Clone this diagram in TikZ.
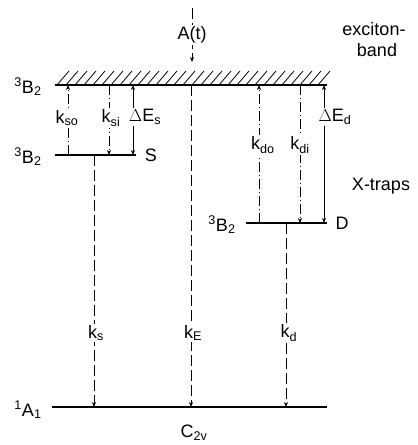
\documentclass[tikz,border=0pt]{standalone}
\usepackage{fontspec}
\setmainfont{Liberation Sans}
\usetikzlibrary{arrows.meta}
\begin{document}
\begin{tikzpicture}[x=1pt,y=-1pt,
  every node/.style={font=\fontsize{18}{20}\selectfont, inner sep=1pt},
  lbl/.style={fill=white, inner sep=1.5pt},
  level/.style={line width=1.6pt},
  tip/.style={-{Stealth[length=5pt,width=4pt]}},
  dtip/.style={{Stealth[length=5pt,width=4pt]}-{Stealth[length=5pt,width=4pt]}},
  dsh/.style={line width=0.8pt, dash pattern=on 11pt off 4pt},
  dshdot/.style={line width=0.8pt, dash pattern=on 10pt off 3pt on 1pt off 3pt},
  sol/.style={line width=0.8pt}]
\useasboundingbox (0,0) rectangle (418,445);
% levels
\coordinate (bandL) at (55,85); \coordinate (bandR) at (327,85);
\coordinate (sL) at (55,155); \coordinate (sR) at (136,155);
\coordinate (dL) at (246,223); \coordinate (dR) at (327,223);
\coordinate (gL) at (52,407); \coordinate (gR) at (327,407);
\draw[level] (bandL) -- (bandR);
\draw[level] (sL) -- (sR);
\draw[level] (dL) -- (dR);
\draw[level] (gL) -- (gR);
% hatching
\foreach \i in {0,...,29} {
  \draw[line width=0.8pt] (57+9*\i,85) -- (69+9*\i,71);
}
% level labels
\node (lb1) at (28,87) {$^{\mathrm{3}}$B$_{\mathrm{2}}$};
\node (lb2) at (28,157) {$^{\mathrm{3}}$B$_{\mathrm{2}}$};
\node (lb3) at (222,225) {$^{\mathrm{3}}$B$_{\mathrm{2}}$};
\node (lb4) at (28,410) {$^{\mathrm{1}}$A$_{\mathrm{1}}$};
\node (S) at (151,155) {S};
\node (D) at (342,223) {D};
\node (C) at (194,433) {C$_{\mathrm{2v}}$};
\node (exc) at (374,29) {exciton-};
\node (band) at (377,50) {band};
\node (xt) at (381,186) {X-traps};
% A(t)
\coordinate (a0) at (192,8); \coordinate (a1) at (192,62);
\draw[dsh,tip] (a0) -- (a1);
\node[lbl] (At) at (192,35) {A(t)};
% k_E
\coordinate (e0) at (191,85); \coordinate (e1) at (191,407);
\draw[dsh,tip] (e0) -- (e1);
\node[lbl] (kE) at (193,333) {k$_{\mathrm{E}}$};
% k_s
\coordinate (s0) at (94,155); \coordinate (s1) at (94,407);
\draw[dsh,tip] (s0) -- (s1);
\node[lbl] (ks) at (96,333) {k$_{\mathrm{s}}$};
% k_d
\coordinate (d0) at (286,223); \coordinate (d1) at (286,407);
\draw[dsh,tip] (d0) -- (d1);
\node[lbl] (kd) at (289,333) {k$_{\mathrm{d}}$};
% S side
\coordinate (so0) at (68,155); \coordinate (so1) at (68,85);
\draw[dshdot,tip] (so0) -- (so1);
\node[lbl] (kso) at (67,118) {k$_{\mathrm{so}}$};
\coordinate (si0) at (109,85); \coordinate (si1) at (109,155);
\draw[dshdot,tip] (si0) -- (si1);
\node[lbl] (ksi) at (111,118) {k$_{\mathrm{si}}$};
\coordinate (es0) at (133,85); \coordinate (es1) at (133,155);
\draw[sol,dtip] (es0) -- (es1);
\node[lbl] (dEs) at (145,117) {$\Delta$E$_{\mathrm{s}}$};
% D side
\coordinate (do0) at (259,223); \coordinate (do1) at (259,85);
\draw[dshdot,tip] (do0) -- (do1);
\node[lbl] (kdo) at (263,145) {k$_{\mathrm{do}}$};
\coordinate (di0) at (300,85); \coordinate (di1) at (300,223);
\draw[dshdot,tip] (di0) -- (di1);
\node[lbl] (kdi) at (300,145) {k$_{\mathrm{di}}$};
\coordinate (ed0) at (324,85); \coordinate (ed1) at (324,223);
\draw[sol,dtip] (ed0) -- (ed1);
\node[lbl] (dEd) at (335,117) {$\Delta$E$_{\mathrm{d}}$};
\end{tikzpicture}
\end{document}
